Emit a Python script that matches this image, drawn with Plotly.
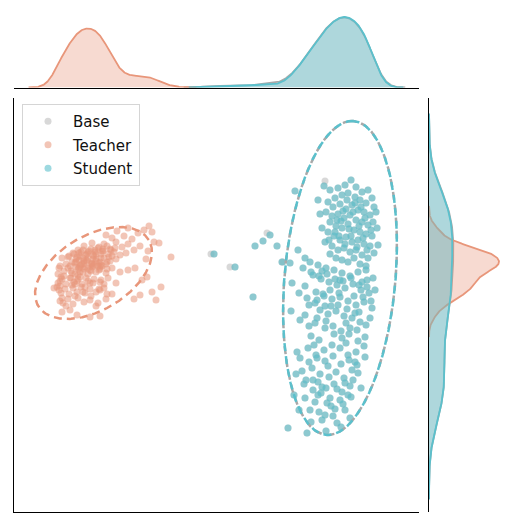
import numpy as np
import plotly.graph_objects as go

# ---------------- data (embedding coordinates) ----------------
TEACHER_X = [149,152,128,117,106,138,124,112,132,144,154,159,
             84,92,98,104,110,116,122,128,134,140,88,96,102,108,114,120,126,148,78,74,
             62,68,72,76,80,84,88,92,96,100,104,110,116,102,112,146,171,66,82,94,106,86,
             59,60,64,68,72,76,80,84,88,92,96,100,106,112,120,128,135,58,70,78,90,98,
             60,61,58,62,66,70,74,78,82,86,90,94,100,108,116,104,142,147,64,72,80,88,
             54,59,57,61,65,69,73,77,81,85,90,96,104,112,100,161,152,60,75,
             60,62,63,68,73,78,84,90,98,106,134,140,156,
             62,70,77,90,100,96,66,
             79,83,87,91,95,99,103,107,111,115, 75,79,81,87,91,93,99,101,107,109,
             71,75,79,83,85,91,93,99,101,107, 69,73,77,81,83,89,93,95,101,103,
             71,75,77,83,85,91,93,99,101,107, 76,80,84,88,92,96,100,78,86,94]
TEACHER_Y = [226,232,228,231,235,233,236,238,239,230,242,243,
             246,243,248,244,249,242,247,244,250,246,252,254,251,254,252,255,253,251,250,254,
             258,257,262,259,256,261,258,263,259,262,258,261,259,266,256,259,257,264,264,256,264,255,
             268,266,271,268,273,267,272,269,274,267,272,269,273,268,272,270,268,274,266,275,270,266,
             281,277,283,279,284,278,282,279,284,278,283,279,282,278,283,284,280,277,276,285,277,281,
             288,290,287,293,289,294,288,292,287,293,289,292,288,294,290,287,292,286,296,
             301,298,303,299,304,298,302,300,303,299,299,295,300,
             312,310,315,317,316,306,306,
             253,250,254,249,252,247,251,246,250,248, 263,260,265,261,264,259,263,258,262,257,
             271,274,268,272,267,271,266,270,265,269, 256,253,257,252,258,251,255,250,254,249,
             278,284,281,292,287,296,283,289,280,294, 262,266,263,268,264,261,267,269,260,265]

STUDENT_X = [324,330,338,345,351,356,362,368,372,342, 348,355,360,366,374,335,328,333,340,346,
             352,358,364,370,376,326,332,338,344,350, 356,362,368,373,330,336,342,348,354,360,
             366,372,328,334,340,346,352,358,364,370, 332,338,344,350,356,362,368,374,336,342,
             348,354,360,366,330,325,322,320,318,377, 378,347,353,341,359,365,335,351,345,357,
             339,349,363,371,329,355,361,343,337,367,
             310,318,326,334,342,350,358,366,373,367, 313,321,329,337,345,353,361,369,305,299,
             316,324,332,340,348,356,364,372,309,320, 328,336,344,352,360,370,305,315,325,333,
             341,349,357,365,311,319,291,292,298,290, 322,330,338,346,354,362,340,325,317,359,
             303,311,319,327,335,343,351,359,367,375, 307,315,323,331,339,347,355,363,371,300,
             309,317,326,334,342,350,358,366,314,346,
             297,308,316,324,332,340,348,356,364,302, 312,320,328,336,344,352,358,318,326,334,
             342,350,322,318,331,340,348,294,310,325, 337,350,322,307,288,345,330,313,306,355,
             300,309,317,325,333,341,349,357,365,304, 313,321,329,337,345,353,296,305,315,327,
             335,343,351,319,311,333,341,299,361,326,
             214,235,255,263,270,253,277,295,282,305]
STUDENT_Y = [186,190,188,185,180,187,192,190,198,195, 193,197,200,203,207,198,202,207,204,209,
             205,210,212,215,212,212,216,214,218,215, 220,222,225,222,222,226,228,224,230,232,
             234,236,232,236,240,237,242,240,244,246, 246,250,248,252,250,255,258,253,258,260,
             262,258,264,266,254,242,228,214,200,228, 245,200,212,221,226,218,232,236,244,247,
             236,229,238,230,240,203,207,211,220,250,
             262,265,268,270,273,276,272,270,278,280, 275,279,282,285,288,284,290,293,286,293,
             292,296,299,297,301,305,302,308,305,310, 314,311,316,318,322,318,315,323,328,326,
             331,334,330,337,336,340,311,283,250,263, 271,290,305,323,296,282,280,306,300,312,
             268,272,276,274,279,281,278,285,287,290, 298,303,294,306,293,309,313,297,301,320,
             326,318,321,334,338,328,341,325,345,343,
             352,348,355,350,345,348,355,352,346,371, 368,374,366,372,378,370,373,382,388,384,
             392,386,387,395,406,400,395,395,410,415, 423,418,420,433,428,410,398,390,380,362,
             358,362,358,361,356,364,360,365,357,384, 380,393,377,389,383,380,374,398,402,403,
             409,404,397,412,422,416,427,410,388,431,
             254,267,246,241,235,297,246,191,262,258]

# Base points coincide with the student points, plus a few that peek out
BASE_EXTRA_X = [211, 230, 267, 325, 283]
BASE_EXTRA_Y = [254, 267, 233, 181, 262]

GROUPS = ["Base", "Teacher", "Student"]

# confidence ellipses: centre, semi-major, semi-minor, tilt (deg)
ELL_CX = [340.0, 93.5, 340.0]
ELL_CY = [278.0, 273.0, 278.0]
ELL_A = [157.5, 64.4, 157.5]
ELL_B = [55.5, 37.2, 55.5]
ELL_ANGLE = [85.0, 30.9, 85.0]

# ---------------- styles ----------------
COLORS = {"Base": "#a9a9a9", "Teacher": "#e8967a", "Student": "#5bc0cc"}
FILLS = {"Base": "rgba(140,140,140,0.22)", "Teacher": "rgba(233,150,122,0.35)",
         "Student": "rgba(91,192,204,0.40)"}
PT_OPACITY = {"Base": 0.45, "Teacher": 0.55, "Student": 0.6}

data = {
    "Base": (STUDENT_X + BASE_EXTRA_X, STUDENT_Y + BASE_EXTRA_Y),
    "Teacher": (TEACHER_X, TEACHER_Y),
    "Student": (STUDENT_X, STUDENT_Y),
}
N_TOTAL = sum(len(v[0]) for v in data.values())


def kde(vals, weight):
    v = np.asarray(vals, float)
    n = len(v)
    bw = n ** (-0.2) * v.std(ddof=1)
    grid = np.linspace(v.min() - 3 * bw, v.max() + 3 * bw, 400)
    d = np.exp(-0.5 * ((grid[:, None] - v[None, :]) / bw) ** 2).sum(1) / (n * bw * np.sqrt(2 * np.pi))
    return grid, d * weight


W, H = 515, 527
X0, X1 = 14, 419        # main plot pixel span
Y0, Y1 = 98, 512
TOP_BASE = 87.5
RIGHT_BASE = 429

fig = go.Figure()

kx, ky = {}, {}
for g in GROUPS:
    xs, ys = data[g]
    w = len(xs) / N_TOTAL
    kx[g] = kde(xs, w)
    ky[g] = kde(ys, w)

top_max = max(kx[g][1].max() for g in GROUPS)
right_max = max(ky[g][1].max() for g in GROUPS)

for g in GROUPS:
    gx, dx = kx[g]
    fig.add_trace(go.Scatter(x=gx, y=dx, mode="lines", fill="tozeroy", fillcolor=FILLS[g],
                             line=dict(color=COLORS[g], width=1.8), showlegend=False,
                             hoverinfo="skip", xaxis="x2", yaxis="y2"))
    gy, dy = ky[g]
    fig.add_trace(go.Scatter(x=dy, y=gy, mode="lines", fill="tozerox", fillcolor=FILLS[g],
                             line=dict(color=COLORS[g], width=1.8), showlegend=False,
                             hoverinfo="skip", xaxis="x3", yaxis="y3"))

for g in GROUPS:
    xs, ys = data[g]
    fig.add_trace(go.Scatter(x=xs, y=ys, mode="markers", name=g, legendgroup=g,
                             marker=dict(size=7, color=COLORS[g], opacity=PT_OPACITY[g],
                                         line=dict(width=0)),
                             xaxis="x", yaxis="y"))

T0 = [0.055, 0.0, 0.0]
for i, g in enumerate(GROUPS):
    t = np.linspace(T0[i], T0[i] + 2 * np.pi, 400)
    th = np.deg2rad(ELL_ANGLE[i])
    ex = ELL_CX[i] + ELL_A[i] * np.cos(th) * np.cos(t) - ELL_B[i] * np.sin(th) * np.sin(t)
    ey = ELL_CY[i] - (ELL_A[i] * np.sin(th) * np.cos(t) + ELL_B[i] * np.cos(th) * np.sin(t))
    fig.add_trace(go.Scatter(x=ex, y=ey, mode="lines", showlegend=False, hoverinfo="skip",
                             line=dict(color=COLORS[g], width=2.5, dash="8px,5px"),
                             xaxis="x", yaxis="y"))

ax_common = dict(showgrid=False, zeroline=False, showticklabels=False, ticks="")
line_style = dict(showline=True, linecolor="black", linewidth=1.3)

fig.update_layout(
    width=W, height=H, margin=dict(l=0, r=0, t=0, b=0),
    paper_bgcolor="white", plot_bgcolor="white",
    xaxis=dict(domain=[X0 / W, X1 / W], range=[X0, X1], anchor="y", **ax_common, **line_style),
    yaxis=dict(domain=[1 - Y1 / H, 1 - Y0 / H], range=[Y1, Y0], anchor="x", **ax_common, **line_style),
    xaxis2=dict(domain=[X0 / W, X1 / W], range=[X0, X1], anchor="y2", **ax_common, **line_style),
    yaxis2=dict(domain=[1 - TOP_BASE / H, 1.0], range=[0, top_max * TOP_BASE / (TOP_BASE - 17)],
                anchor="x2", **ax_common),
    xaxis3=dict(domain=[RIGHT_BASE / W, 1.0], range=[0, right_max * (W - RIGHT_BASE) / 70],
                anchor="y3", **ax_common),
    yaxis3=dict(domain=[1 - Y1 / H, 1 - Y0 / H], range=[Y1, Y0], anchor="x3", **ax_common, **line_style),
    legend=dict(x=22 / W, y=1 - 104 / H, xanchor="left", yanchor="top",
                bgcolor="rgba(255,255,255,0.85)", bordercolor="#d5d5d5", borderwidth=1,
                font=dict(family="DejaVu Sans", size=15, color="#111111"),
                tracegroupgap=1, itemwidth=40),
    showlegend=True,
)

fig.write_html("out.html")
